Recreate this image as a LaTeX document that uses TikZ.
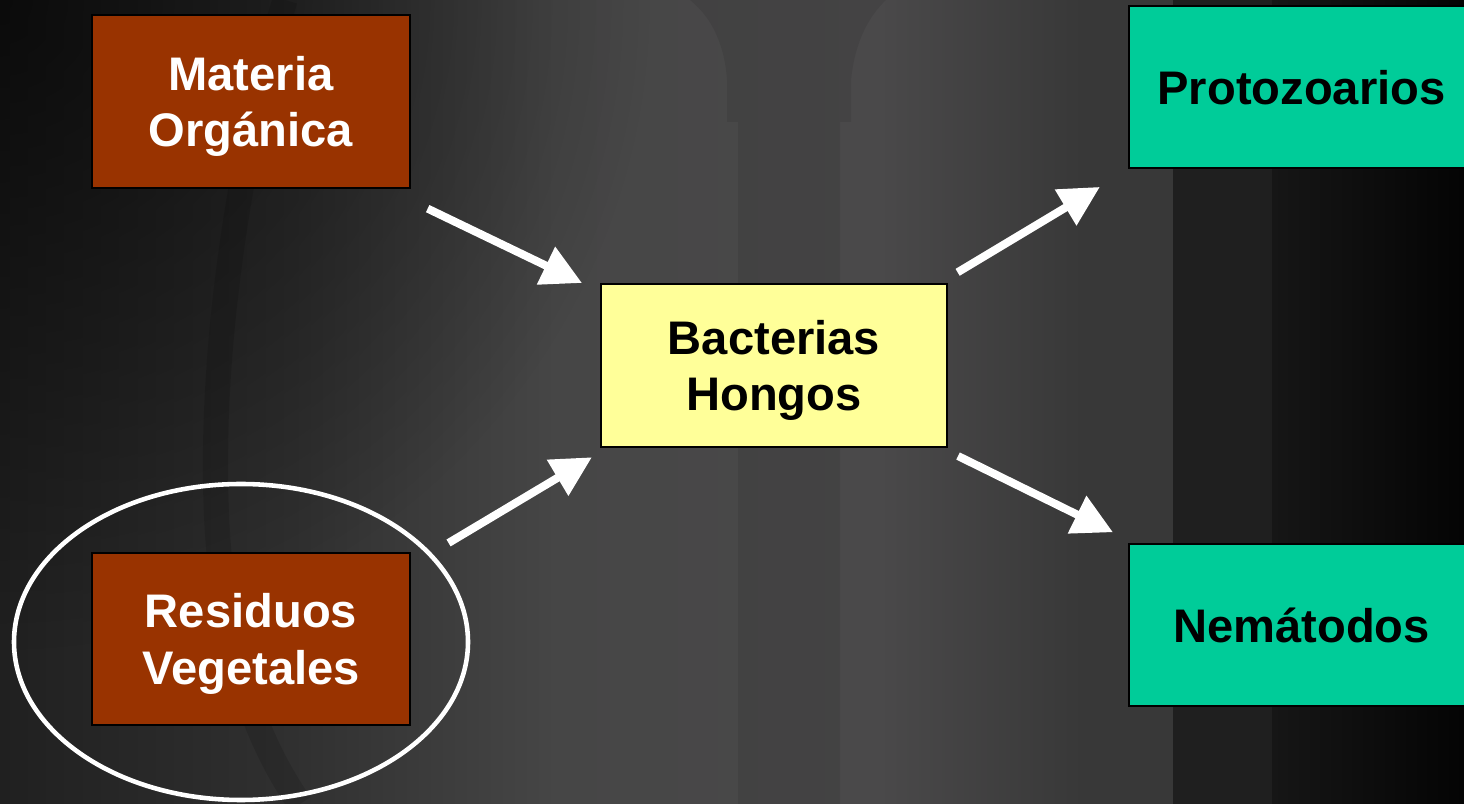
\documentclass[tikz,border=0pt]{standalone}
\usepackage{fontspec}
\setmainfont{Liberation Sans}
\usetikzlibrary{arrows.meta,fadings}

\definecolor{fondoA}{HTML}{202020}
\definecolor{fondoB}{HTML}{303030}
\definecolor{fondoC}{HTML}{464646}
\definecolor{fondoD}{HTML}{4A494A}
\definecolor{fondoE}{HTML}{383838}
\definecolor{fondoF}{HTML}{1F1F1F}
\definecolor{fondoG}{HTML}{161616}
\definecolor{fondoH}{HTML}{040404}
\definecolor{marron}{HTML}{993300}
\definecolor{amarillo}{HTML}{FFFF99}
\definecolor{verde}{HTML}{00CC99}

\pgfdeclarehorizontalshading{fondo}{100bp}{
  color(0bp)=(fondoA); color(25bp)=(fondoA); color(35bp)=(fondoB);
  color(44bp)=(fondoC); color(55bp)=(fondoD); color(62bp)=(fondoE);
  color(65bp)=(fondoE); color(75bp)=(fondoE); color(100bp)=(fondoE)}
\tikzfading[name=esquina, inner color=transparent!35, outer color=transparent!100]

\begin{document}
\begin{tikzpicture}[x=0.01cm,y=-0.01cm,
    caja/.style={draw=black,line width=0.6pt,inner sep=0pt,align=center,text depth=0pt,
      font=\bfseries\fontsize{13.4}{16}\selectfont},
    flecha/.style={white,line width=0.08cm,-{Triangle[length=4mm,width=4mm]}}]
    \useasboundingbox (0,0) rectangle (1464,804);

    % fondo
    \begin{scope}
      \clip (0,0) rectangle (1464,804);
      \shade[shading=fondo] (0,0) rectangle (1464,804);
      \fill[black,path fading=esquina] (0,0) circle (650);
      \draw[black,opacity=0.12,line width=0.25cm] (285,0) .. controls (225,200) and (200,450) .. (225,600)
        .. controls (240,700) and (270,760) .. (300,804);
      \fill[black,opacity=0.08] (690,0) .. controls (715,20) and (725,50) .. (727,80) -- (727,122)
        -- (738,122) -- (738,804) -- (840,804) -- (840,122) -- (851,122) -- (851,80)
        .. controls (855,40) and (870,15) .. (886,0) -- cycle;
      \fill[fondoF] (1173,0) rectangle (1272,804);
      \shade[left color=fondoG,right color=fondoH] (1272,0) rectangle (1464,804);
    \end{scope}

    % cajas
    \node[caja,fill=marron,text=white,minimum width=3.18cm,minimum height=1.73cm]
      (mo) at (251,101.5) {Materia\\Orgánica};
    \node[caja,fill=marron,text=white,minimum width=3.18cm,minimum height=1.72cm]
      (rv) at (251,639) {Residuos\\Vegetales};
    \node[caja,fill=amarillo,minimum width=3.46cm,minimum height=1.63cm]
      (bh) at (774,365.5) {Bacterias\\Hongos};
    \node[caja,fill=verde,minimum width=3.45cm,minimum height=1.62cm]
      (pz) at (1301.5,87) {Protozoarios};
    \node[caja,fill=verde,minimum width=3.45cm,minimum height=1.62cm]
      (nm) at (1301.5,625) {Nemátodos};

    \draw[white,line width=1.3pt] (241,642) ellipse [x radius=227,y radius=158];

    % flechas
    \draw[flecha,shorten <=1.96cm,shorten >=2.13cm]
      ([yshift=-0.22cm]mo.center) -- ([yshift=-0.1cm]bh.center);
    \draw[flecha,shorten <=2.30cm,shorten >=2.12cm]
      ([yshift=-0.22cm]rv.center) -- ([yshift=0.17cm]bh.center);
    \draw[flecha,shorten <=2.14cm,shorten >=2.35cm]
      ([yshift=-0.17cm]bh.center) -- ([yshift=0.21cm]pz.center);
    \draw[flecha,shorten <=2.05cm,shorten >=2.10cm] (bh.center) -- (nm.center);
  \end{tikzpicture}
\end{document}
